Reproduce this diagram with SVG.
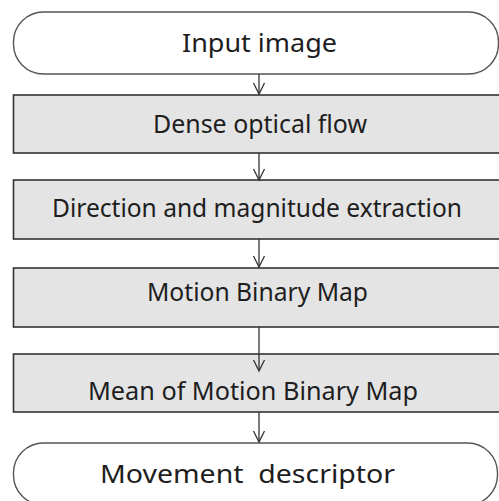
<svg xmlns="http://www.w3.org/2000/svg" width="499" height="501" viewBox="0 0 499 501">
<defs>
<style>
.term{fill:#ffffff;stroke:#555555;stroke-width:1.4}
.box{fill:#e4e4e4;stroke:#333333;stroke-width:1.6}
.lbl{font-family:"Noto Sans","Open Sans",sans-serif;font-size:26px;fill:#1e1e1e;text-anchor:middle;white-space:pre}
.conn{stroke:#333333;stroke-width:1.3;fill:none;marker-end:url(#ah)}
</style>
<marker id="ah" markerUnits="userSpaceOnUse" viewBox="-12 -7 14 14" markerWidth="14" markerHeight="14" refX="0" refY="0" orient="auto" overflow="visible">
<path d="M-11,-5.5 L0,0 L-11,5.5" fill="none" stroke="#333333" stroke-width="1.3"/>
</marker>
</defs>
<rect width="499" height="501" fill="#ffffff"/>
<g id="input-image">
<rect class="term" x="13.5" y="12" width="485" height="62" rx="30" ry="30"/>
<text class="lbl" x="259.5" y="52" textLength="155" lengthAdjust="spacingAndGlyphs">Input image</text>
</g>
<g id="dense-optical-flow">
<rect class="box" x="13.5" y="95" width="492" height="58"/>
<text class="lbl" x="260" y="133" textLength="214" lengthAdjust="spacingAndGlyphs">Dense optical flow</text>
</g>
<g id="direction-magnitude">
<rect class="box" x="13.5" y="180" width="492" height="59"/>
<text class="lbl" x="257" y="217" textLength="410" lengthAdjust="spacingAndGlyphs">Direction and magnitude extraction</text>
</g>
<g id="motion-binary-map">
<rect class="box" x="13.5" y="268" width="492" height="59"/>
<text class="lbl" x="257.5" y="301" textLength="221" lengthAdjust="spacingAndGlyphs">Motion Binary Map</text>
</g>
<g id="mean-motion-binary-map">
<rect class="box" x="13.5" y="354" width="492" height="58"/>
<text class="lbl" x="253" y="400" textLength="330" lengthAdjust="spacingAndGlyphs">Mean of Motion Binary Map</text>
</g>
<g id="movement-descriptor">
<rect class="term" x="13.5" y="443" width="484" height="62" rx="30" ry="30"/>
<text class="lbl" x="247.5" y="483" textLength="295" lengthAdjust="spacingAndGlyphs">Movement  descriptor</text>
</g>
<g id="connectors">
<line class="conn" x1="259" y1="74" x2="259" y2="94"/>
<line class="conn" x1="259" y1="153" x2="259" y2="180"/>
<line class="conn" x1="259" y1="239" x2="259" y2="267"/>
<line class="conn" x1="259" y1="327" x2="259" y2="371"/>
<line class="conn" x1="259" y1="412" x2="259" y2="442"/>
</g>
</svg>
